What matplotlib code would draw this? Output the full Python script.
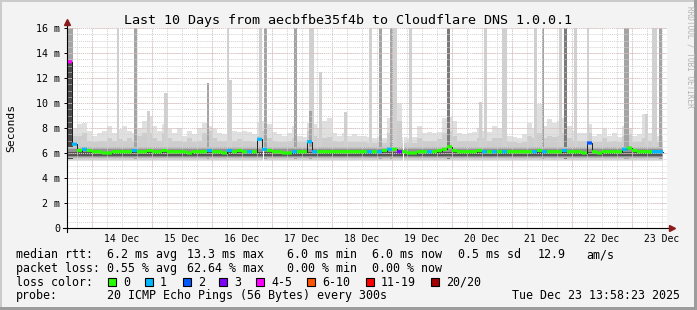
import numpy as np
import matplotlib
matplotlib.use('Agg')
import matplotlib.pyplot as plt
from matplotlib.patches import Rectangle
from datetime import datetime, timedelta

plt.rcParams['font.family'] = 'DejaVu Sans Mono'

W, H = 697, 310
start = datetime(2025, 12, 13, 13, 58, 23)
t_end = 238.4   # hours after start where the data stops
bin_h = 2

# median rtt per 2h bin (ms) and lost pings (of 20)
median = [13.3, 6.7, 6.2, 6.3, 6.2, 6.1, 6.1, 6.0, 6.0, 6.1,
          6.1, 6.1, 6.1, 6.2, 6.1, 6.1, 6.2, 6.1, 6.1, 6.2,
          6.1, 6.1, 6.1, 6.1, 6.0, 6.1, 6.1, 6.1, 6.2, 6.1,
          6.1, 6.0, 6.2, 6.1, 6.2, 6.1, 6.1, 6.1, 7.1, 6.3,
          6.2, 6.1, 6.1, 6.0, 6.0, 6.1, 6.1, 6.1, 6.9, 6.1,
          6.1, 6.1, 6.1, 6.1, 6.1, 6.1, 6.1, 6.1, 6.1, 6.1,
          6.1, 6.1, 6.1, 6.2, 6.3, 6.3, 6.1, 6.1, 6.0, 6.0,
          6.1, 6.1, 6.1, 6.1, 6.2, 6.3, 6.5, 6.2, 6.1, 6.1,
          6.1, 6.1, 6.2, 6.1, 6.1, 6.1, 6.1, 6.1, 6.1, 6.1,
          6.1, 6.1, 6.1, 6.1, 6.2, 6.1, 6.1, 6.1, 6.1, 6.2,
          6.1, 6.1, 6.1, 6.0, 6.8, 6.1, 6.0, 6.1, 6.1, 6.1,
          6.1, 6.3, 6.4, 6.2, 6.1, 6.1, 6.1, 6.1, 6.1]
loss = [5, 1, 0, 1, 0, 0, 0, 0, 0, 0, 0, 0, 0, 1, 0, 0, 0, 0, 0, 0,
        0, 0, 0, 0, 0, 0, 0, 0, 1, 0, 0, 0, 1, 0, 0, 0, 1, 0, 1, 1,
        0, 0, 0, 0, 0, 1, 0, 0, 1, 1, 0, 0, 0, 0, 0, 0, 0, 0, 0, 0,
        1, 0, 1, 0, 1, 0, 3, 0, 0, 0, 0, 0, 1, 0, 0, 0, 0, 0, 0, 0,
        0, 0, 0, 1, 0, 1, 0, 1, 0, 0, 0, 0, 0, 1, 0, 1, 0, 0, 0, 1,
        0, 0, 0, 0, 2, 0, 0, 0, 0, 0, 0, 1, 0, 0, 0, 0, 0, 1, 1]
# smoke: top of the outer (lightest) and second layer per bin
smoke_hi = [8.0, 8.0, 8.3, 8.4, 7.8, 7.4, 7.6, 7.8, 8.2, 7.6,
            7.9, 8.2, 7.8, 7.6, 8.0, 8.6, 9.0, 8.2, 7.8, 8.3,
            7.9, 7.6, 8.0, 7.4, 7.8, 7.5, 8.0, 8.4, 8.2, 7.9,
            7.6, 7.5, 8.0, 7.8, 7.7, 7.8, 7.7, 7.5, 8.4, 8.6,
            8.3, 7.7, 7.5, 7.4, 7.6, 8.2, 7.4, 7.3, 8.4, 8.3,
            8.0, 8.6, 8.8, 7.6, 7.4, 7.6, 7.4, 7.5, 7.4, 7.4,
            7.3, 7.2, 7.3, 7.2, 8.8, 11.2, 10.0, 7.3, 7.2, 7.3,
            8.2, 7.6, 7.7, 7.6, 7.7, 8.8, 8.9, 8.6, 7.6, 7.5,
            7.6, 7.7, 8.0, 7.8, 7.7, 8.2, 8.0, 7.5, 7.4, 7.3,
            7.2, 7.5, 8.4, 8.0, 9.9, 8.2, 8.7, 8.4, 8.6, 8.8,
            8.2, 7.8, 7.6, 7.6, 8.3, 7.4, 7.5, 8.0, 7.4, 7.6,
            7.3, 8.2, 8.0, 7.4, 7.5, 9.1, 7.6, 7.5, 7.4]
smoke_mid = [7.2, 7.4, 7.4, 7.6, 7.0, 6.9, 7.0, 7.0, 7.2, 7.0,
             7.1, 7.0, 7.2, 7.0, 7.4, 7.6, 7.6, 7.2, 7.0, 7.6,
             7.2, 7.0, 7.0, 6.9, 7.2, 6.9, 7.0, 7.6, 7.8, 7.2,
             7.0, 7.0, 7.4, 7.0, 7.1, 7.0, 7.0, 6.9, 7.4, 7.8,
             7.2, 7.0, 6.9, 6.9, 7.0, 7.2, 6.9, 6.9, 7.8, 7.4,
             7.2, 7.2, 7.3, 7.0, 6.9, 7.0, 6.9, 6.9, 6.9, 6.9,
             6.8, 6.8, 6.9, 6.8, 7.6, 10.6, 8.6, 6.8, 6.8, 6.8,
             7.2, 7.0, 7.0, 7.0, 7.1, 7.6, 7.8, 7.4, 7.0, 7.0,
             7.0, 7.0, 7.2, 7.2, 7.0, 7.2, 7.2, 7.0, 6.9, 6.9,
             6.8, 6.9, 7.4, 7.2, 7.6, 7.2, 7.4, 7.3, 7.4, 7.6,
             7.2, 7.0, 7.0, 7.0, 7.6, 6.9, 6.9, 7.2, 6.9, 7.0,
             6.9, 7.4, 7.5, 6.9, 6.9, 7.2, 7.0, 7.0, 6.9]

# single outliers (hours after start)
spike_t0 = [0.4, 0.4, 20.0, 26.8, 32.0, 38.8, 56.0, 64.0, 64.8, 76.8, 78.8, 90.8,
            96.8, 96.8, 100.8, 110.8, 120.8, 124.8, 129.2, 130.4, 136.8, 152.0,
            164.8, 166.8, 174.0, 186.8, 190.0, 196.8, 198.8, 202.8, 208.0, 222.8,
            231.2, 234.0, 236.8]
spike_t1 = [2.4, 2.4, 20.8, 28.0, 33.2, 40.4, 56.8, 64.8, 66.0, 78.0, 80.0, 92.0,
            98.8, 98.0, 102.0, 112.0, 122.0, 126.0, 130.4, 132.0, 138.0, 153.2,
            166.0, 168.0, 176.0, 188.0, 190.8, 198.0, 200.0, 204.0, 208.8, 224.8,
            232.4, 236.0, 238.0]
spike_top = [16, 13.3, 16, 16, 9.4, 10.8, 11.6, 16, 11.8, 16, 16, 16,
             16, 9.4, 12.5, 9.3, 16, 16, 16, 16, 16, 16,
             10.1, 16, 16, 16, 16, 16, 16, 16, 16, 16,
             9.1, 16, 16]
spike_shade = ['mid', 'core', 'light', 'mid', 'light', 'light', 'mid', 'light', 'light',
               'light', 'mid', 'mid', 'light', 'mid', 'light', 'light', 'light', 'mid',
               'mid', 'light', 'light', 'dark', 'light', 'light', 'light', 'light', 'mid',
               'light', 'dark', 'light', 'light', 'mid', 'light', 'light', 'mid']
gap_t = [78.4, 134.4]
gap_top = [6.5, 9.0]

loss_buckets = ['0', '1', '2', '3', '4-5', '6-10', '11-19', '20/20']
loss_cols = ['#26ff00', '#00b8ff', '#0059ff', '#7e00ff', '#ff00ff', '#ff5500', '#ff0000', '#a00000']

median_stats = ['6.2 ms avg', '13.3 ms max', '6.0 ms min', '6.0 ms now', '0.5 ms sd', '12.9', 'am/s']
loss_stats = ['0.55 % avg', '62.64 % max', '0.00 % min', '0.00 % now']
probe_txt = '20 ICMP Echo Pings (56 Bytes) every 300s'
stamp = 'Tue Dec 23 13:58:23 2025'
title = 'Last 10 Days from aecbfbe35f4b to Cloudflare DNS 1.0.0.1'


def bucket(n):
    if n <= 3:
        return n
    if n <= 5:
        return 4
    if n <= 10:
        return 5
    if n <= 19:
        return 6
    return 7


def hrs(d):
    return (d - start).total_seconds() / 3600.0


med = np.array(median, dtype=float)
nb = len(med)
t0 = np.arange(nb) * bin_h
edges = np.append(t0, t_end)


def ext(v):
    v = np.asarray(v, dtype=float)
    return np.append(v, v[-1])


fig = plt.figure(figsize=(W / 100, H / 100), dpi=100)
fig.patch.set_facecolor('#f3f3f3')
ax = fig.add_axes([67 / W, (H - 228) / H, 600 / W, 200 / H])
ax.set_facecolor('white')

# smoke layers
ax.fill_between(edges, 5.35, ext(smoke_hi), step='post', color='#e0e0e0', lw=0, zorder=1.0)
ax.fill_between(edges, 5.45, ext(smoke_mid), step='post', color='#cdcdcd', lw=0, zorder=1.1)
shades = {'light': '#d0d0d0', 'mid': '#a4a4a4', 'dark': '#7a7a7a', 'core': '#4a4a4a'}
for a, b, top, s in zip(spike_t0, spike_t1, spike_top, spike_shade):
    ax.bar(a, top - 5.5, width=b - a, bottom=5.5, align='edge', color=shades[s], lw=0, zorder=1.2)
core = [(5.58, 6.5, '#b4b4b4'), (5.7, 6.32, '#939393'), (5.8, 6.06, '#555555')]
for lo, hi, c in core:
    ax.fill_between(edges, lo, hi, step='post', color=c, lw=0, zorder=1.3)
for g, top in zip(gap_t, gap_top):
    ax.bar(g, top - 5.2, width=0.4, bottom=5.2, align='edge', color='white', lw=0, zorder=1.4)

# median line coloured by loss (snap off, otherwise the segments get gaps)
ax.step(edges, ext(med), where='post', color='#202020', lw=0.7, zorder=3)
for i in range(nb):
    ax.plot([edges[i], edges[i + 1]], [med[i], med[i]], color=loss_cols[bucket(loss[i])],
            lw=2.3, solid_capstyle='butt', snap=False, zorder=3.1)

# grid
ax.set_xlim(0, 240)
ax.set_ylim(0, 16)
days = range(14, 24)
ax.set_xticks([hrs(datetime(2025, 12, d, 12)) for d in days])
ax.set_xticklabels(['%d Dec' % d for d in days])
six = [hrs(datetime(2025, 12, 13, 18) + timedelta(hours=6 * k)) for k in range(40)]
ax.set_xticks(six, minor=True)
ax.set_yticks(np.arange(0, 17, 2))
ax.set_yticklabels(['0'] + ['%d m' % v for v in range(2, 17, 2)])
ax.set_yticks(np.arange(0, 16.01, 0.5), minor=True)
ax.xaxis.remove_overlapping_locs = False
ax.yaxis.remove_overlapping_locs = False
ax.set_axisbelow(False)
ax.grid(which='minor', color='#d4d4d4', ls=(0, (1, 1)), lw=0.7)
ax.yaxis.grid(True, which='major', color='#e59a9a', ls=(0, (1, 1)), lw=0.7)
ax.xaxis.grid(False, which='major')
for d in days:
    ax.axvline(hrs(datetime(2025, 12, d)), color='#e59a9a', ls=(0, (1, 1)), lw=0.7, zorder=2.5)
for sp in ax.spines.values():
    sp.set_visible(False)
ax.tick_params(axis='x', which='both', length=0, pad=4, labelsize=7)
ax.tick_params(axis='y', which='major', length=2, width=0.7, pad=3, labelsize=7.2)
ax.tick_params(axis='y', which='minor', length=0)

# axes with arrows
ax.plot([0, 0], [-0.3, 16.3], color='black', lw=0.8, clip_on=False, zorder=4)
ax.plot([-1.6, 241.2], [0, 0], color='black', lw=0.8, clip_on=False, zorder=4)
ax.plot([242], [0], marker='>', color='#8b1a1a', ms=4, clip_on=False, zorder=5)
ax.plot([0], [16.45], marker='^', color='#8b1a1a', ms=4, clip_on=False, zorder=5)

# texts
def px(x, y):
    return x / W, 1 - y / H


fig.text(*px(348, 24), title, ha='center', va='baseline', fontsize=9.6)
fig.text(*px(11, 128), 'Seconds', rotation=90, ha='center', va='center', fontsize=8.2)
fig.text(*px(690, 6), 'RRDTOOL / TOBI OETIKER', rotation=270, ha='center', va='top',
         fontsize=5.6, color='#b4b4b4')

fs = 8.4
fig.text(*px(16, 258.3), 'median rtt:', fontsize=fs, va='baseline')
for x, s in zip([107, 187, 287, 372, 458, 538, 586], median_stats):
    fig.text(*px(x, 258.3), s, fontsize=fs, va='baseline')
fig.text(*px(16, 271.8), 'packet loss:', fontsize=fs, va='baseline')
for x, s in zip([107, 187, 287, 372], loss_stats):
    fig.text(*px(x, 271.8), s, fontsize=fs, va='baseline')
fig.text(*px(16, 285.6), 'loss color:', fontsize=fs, va='baseline')
box_x = [108, 145, 183, 219, 256, 307, 366, 431]
for x, lab, c in zip(box_x, loss_buckets, loss_cols):
    fig.add_artist(Rectangle(px(x, 286), 8 / W, 8 / H, transform=fig.transFigure,
                             facecolor=c, edgecolor='black', lw=0.8))
    fig.text(*px(x + 15, 285.6), lab, fontsize=fs, va='baseline')
fig.text(*px(16, 299.3), 'probe:', fontsize=fs, va='baseline')
fig.text(*px(107, 299.3), probe_txt, fontsize=fs, va='baseline')
fig.text(*px(680, 299.3), stamp, fontsize=fs, va='baseline', ha='right')

# frame
fig.add_artist(Rectangle((0, 1 - 2 / H), 1, 2 / H, transform=fig.transFigure, color='#cbcbcb', lw=0))
fig.add_artist(Rectangle((0, 0), 2 / W, 1, transform=fig.transFigure, color='#cbcbcb', lw=0))
fig.add_artist(Rectangle((1 - 3 / W, 0), 3 / W, 1, transform=fig.transFigure, color='#9c9c9c', lw=0))
fig.add_artist(Rectangle((0, 0), 1, 3 / H, transform=fig.transFigure, color='#9c9c9c', lw=0))

fig.savefig('out.png', dpi=100, facecolor=fig.get_facecolor())
